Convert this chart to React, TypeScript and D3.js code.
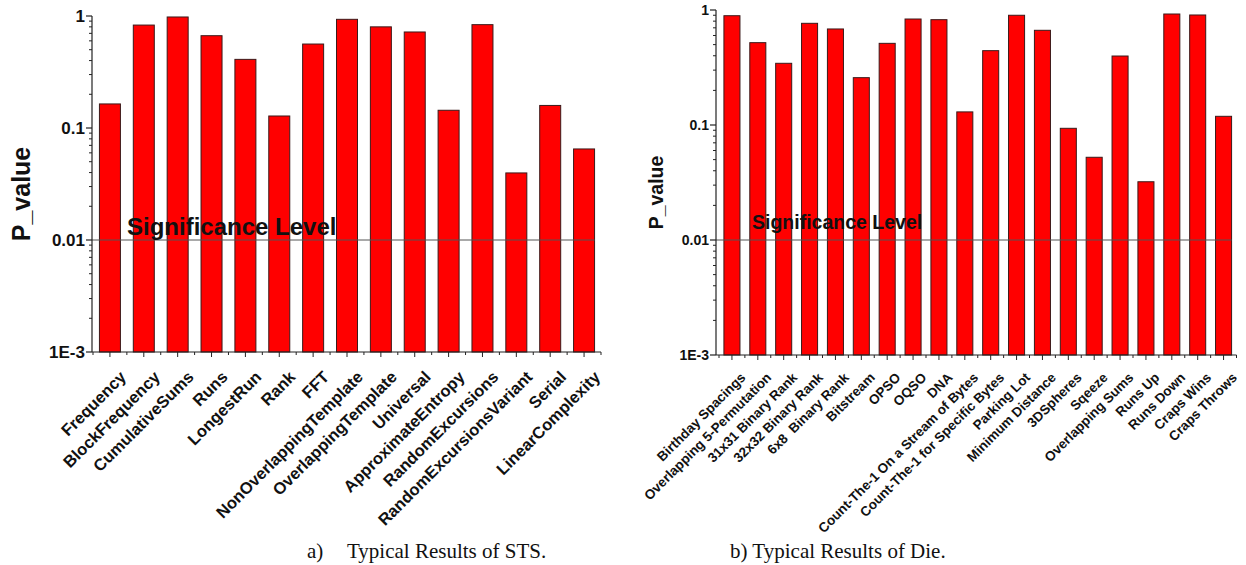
import * as d3 from "d3"

// STS results (left panel)
const stsTests = [
  "Frequency", "BlockFrequency", "CumulativeSums", "Runs", "LongestRun", "Rank", "FFT",
  "NonOverlappingTemplate", "OverlappingTemplate", "Universal", "ApproximateEntropy",
  "RandomExcursions", "RandomExcursionsVariant", "Serial", "LinearComplexity",
]
const stsPValues = [
  0.164, 0.83, 0.98, 0.667, 0.41, 0.128, 0.562, 0.934, 0.80, 0.72, 0.144, 0.837, 0.0397, 0.159, 0.065,
]

// Diehard results (right panel)
const dieTests = [
  "Birthday Spacings", "Overlapping 5-Permutation", "31x31 Binary Rank", "32x32 Binary Rank",
  "6x8  Binary Rank", "Bitstream", "OPSO", "OQSO", "DNA", "Count-The-1 On a Stream of Bytes",
  "Count-The-1 for Specific Bytes", "Parking Lot", "Minimum Distance", "3DSpheres", "Sqeeze",
  "Overlapping Sums", "Runs Up", "Runs Down", "Craps Wins", "Craps Throws",
]
const diePValues = [
  0.892, 0.52, 0.344, 0.766, 0.684, 0.258, 0.513, 0.835, 0.824, 0.13,
  0.443, 0.90, 0.666, 0.0936, 0.0524, 0.398, 0.0321, 0.923, 0.905, 0.119,
]

const yTickValues = [1e-3, 0.01, 0.1, 1]
const yTickLabels = ["1E-3", "0.01", "0.1", "1"]
const significance = 0.01

const SANS = "'Liberation Sans', Arial, sans-serif"
const SERIF = "'Liberation Serif', 'Times New Roman', serif"

interface PanelProps {
  categories: string[]
  values: number[]
  axisX: number
  bandRange: [number, number]
  yRange: [number, number]
  tickFont: number
  labelFont: number
  labelOffset: [number, number]
  yTitleFont: number
  yTitleX: number
  sigFont: number
  sigX: number
  sigY: number
}

function Panel(p: PanelProps) {
  const x = d3.scaleBand<string>()
    .domain(p.categories)
    .range(p.bandRange)
    .paddingInner(0.38)
    .paddingOuter(0.19)
  const y = d3.scaleLog().domain([1e-3, 1]).range(p.yRange)
  const bottom = p.yRange[0]
  const step = x.step()
  const minor = y.ticks().filter(t => !yTickValues.some(v => Math.abs(v - t) < 1e-9))
  const boundaries = d3.range(p.categories.length + 1).map(i => p.bandRange[0] + i * step)
  const lastRight = (x(p.categories[p.categories.length - 1]) ?? 0) + x.bandwidth()

  return (
    <g>
      {p.categories.map((c, i) => (
        <rect key={c} x={x(c)} y={y(p.values[i])} width={x.bandwidth()}
          height={bottom - y(p.values[i])} fill="#ff0000" stroke="#3a1a1a" strokeWidth={1} />
      ))}

      <line x1={p.axisX} x2={lastRight} y1={y(significance)} y2={y(significance)}
        stroke="#555" strokeWidth={1} />

      {/* y axis */}
      <line x1={p.axisX} x2={p.axisX} y1={p.yRange[1]} y2={bottom} stroke="#222" strokeWidth={1.2} />
      {yTickValues.map((v, i) => (
        <g key={v}>
          <line x1={p.axisX - 6} x2={p.axisX} y1={y(v)} y2={y(v)} stroke="#222" strokeWidth={1.2} />
          <text x={p.axisX - 7} y={y(v)} dy="0.35em" textAnchor="end" fontFamily={SANS}
            fontWeight="bold" fontSize={p.tickFont} fill="#111">{yTickLabels[i]}</text>
        </g>
      ))}
      {minor.map(v => (
        <line key={v} x1={p.axisX - 3} x2={p.axisX} y1={y(v)} y2={y(v)} stroke="#222" strokeWidth={1} />
      ))}
      <text transform={`translate(${p.yTitleX},${(p.yRange[1] + bottom) / 2 + 10}) rotate(-90)`}
        textAnchor="middle" fontFamily={SANS} fontWeight="bold" fontSize={p.yTitleFont} fill="#111">
        P_value
      </text>

      {/* x axis */}
      <line x1={p.axisX} x2={p.bandRange[1]} y1={bottom} y2={bottom} stroke="#222" strokeWidth={1.2} />
      {boundaries.map(b => (
        <line key={"b" + b} x1={b} x2={b} y1={bottom} y2={bottom + 3} stroke="#222" strokeWidth={1} />
      ))}
      {p.categories.map(c => {
        const cx = (x(c) ?? 0) + x.bandwidth() / 2
        return (
          <g key={"t" + c}>
            <line x1={cx} x2={cx} y1={bottom} y2={bottom + 5} stroke="#222" strokeWidth={1} />
            <text transform={`translate(${cx + p.labelOffset[0]},${bottom + p.labelOffset[1]}) rotate(-45)`}
              dy="0.35em" textAnchor="end" fontFamily={SANS} fontWeight="bold"
              fontSize={p.labelFont} fill="#111" style={{ whiteSpace: "pre" }}>{c}</text>
          </g>
        )
      })}

      <text x={p.sigX} y={p.sigY} fontFamily={SANS} fontWeight="bold" fontSize={p.sigFont}
        fill="#111">Significance Level</text>
    </g>
  )
}

export default function App() {
  return (
    <div style={{ position: "fixed", left: 0, top: 0, background: "#fff" }}>
      <svg width={1246} height={565} viewBox="0 0 1246 565" style={{ display: "block" }}>
        <rect width={1246} height={565} fill="#fff" />
        <Panel categories={stsTests} values={stsPValues} axisX={92} bandRange={[93, 601]}
          yRange={[352, 16]} tickFont={17} labelFont={16.5} labelOffset={[13, 22]}
          yTitleFont={25} yTitleX={30} sigFont={24} sigX={127} sigY={235} />
        <Panel categories={dieTests} values={diePValues} axisX={716} bandRange={[719, 1236.5]}
          yRange={[355, 10]} tickFont={14} labelFont={13.5} labelOffset={[11, 20]}
          yTitleFont={19.5} yTitleX={663} sigFont={19.5} sigX={752} sigY={229} />

        <text x={307} y={558} fontFamily={SERIF} fontSize={21} fill="#111">a)</text>
        <text x={347} y={558} fontFamily={SERIF} fontSize={21} fill="#111">Typical Results of STS.</text>
        <text x={730} y={558} fontFamily={SERIF} fontSize={21} fill="#111">b) Typical Results of Die.</text>
      </svg>
    </div>
  )
}
